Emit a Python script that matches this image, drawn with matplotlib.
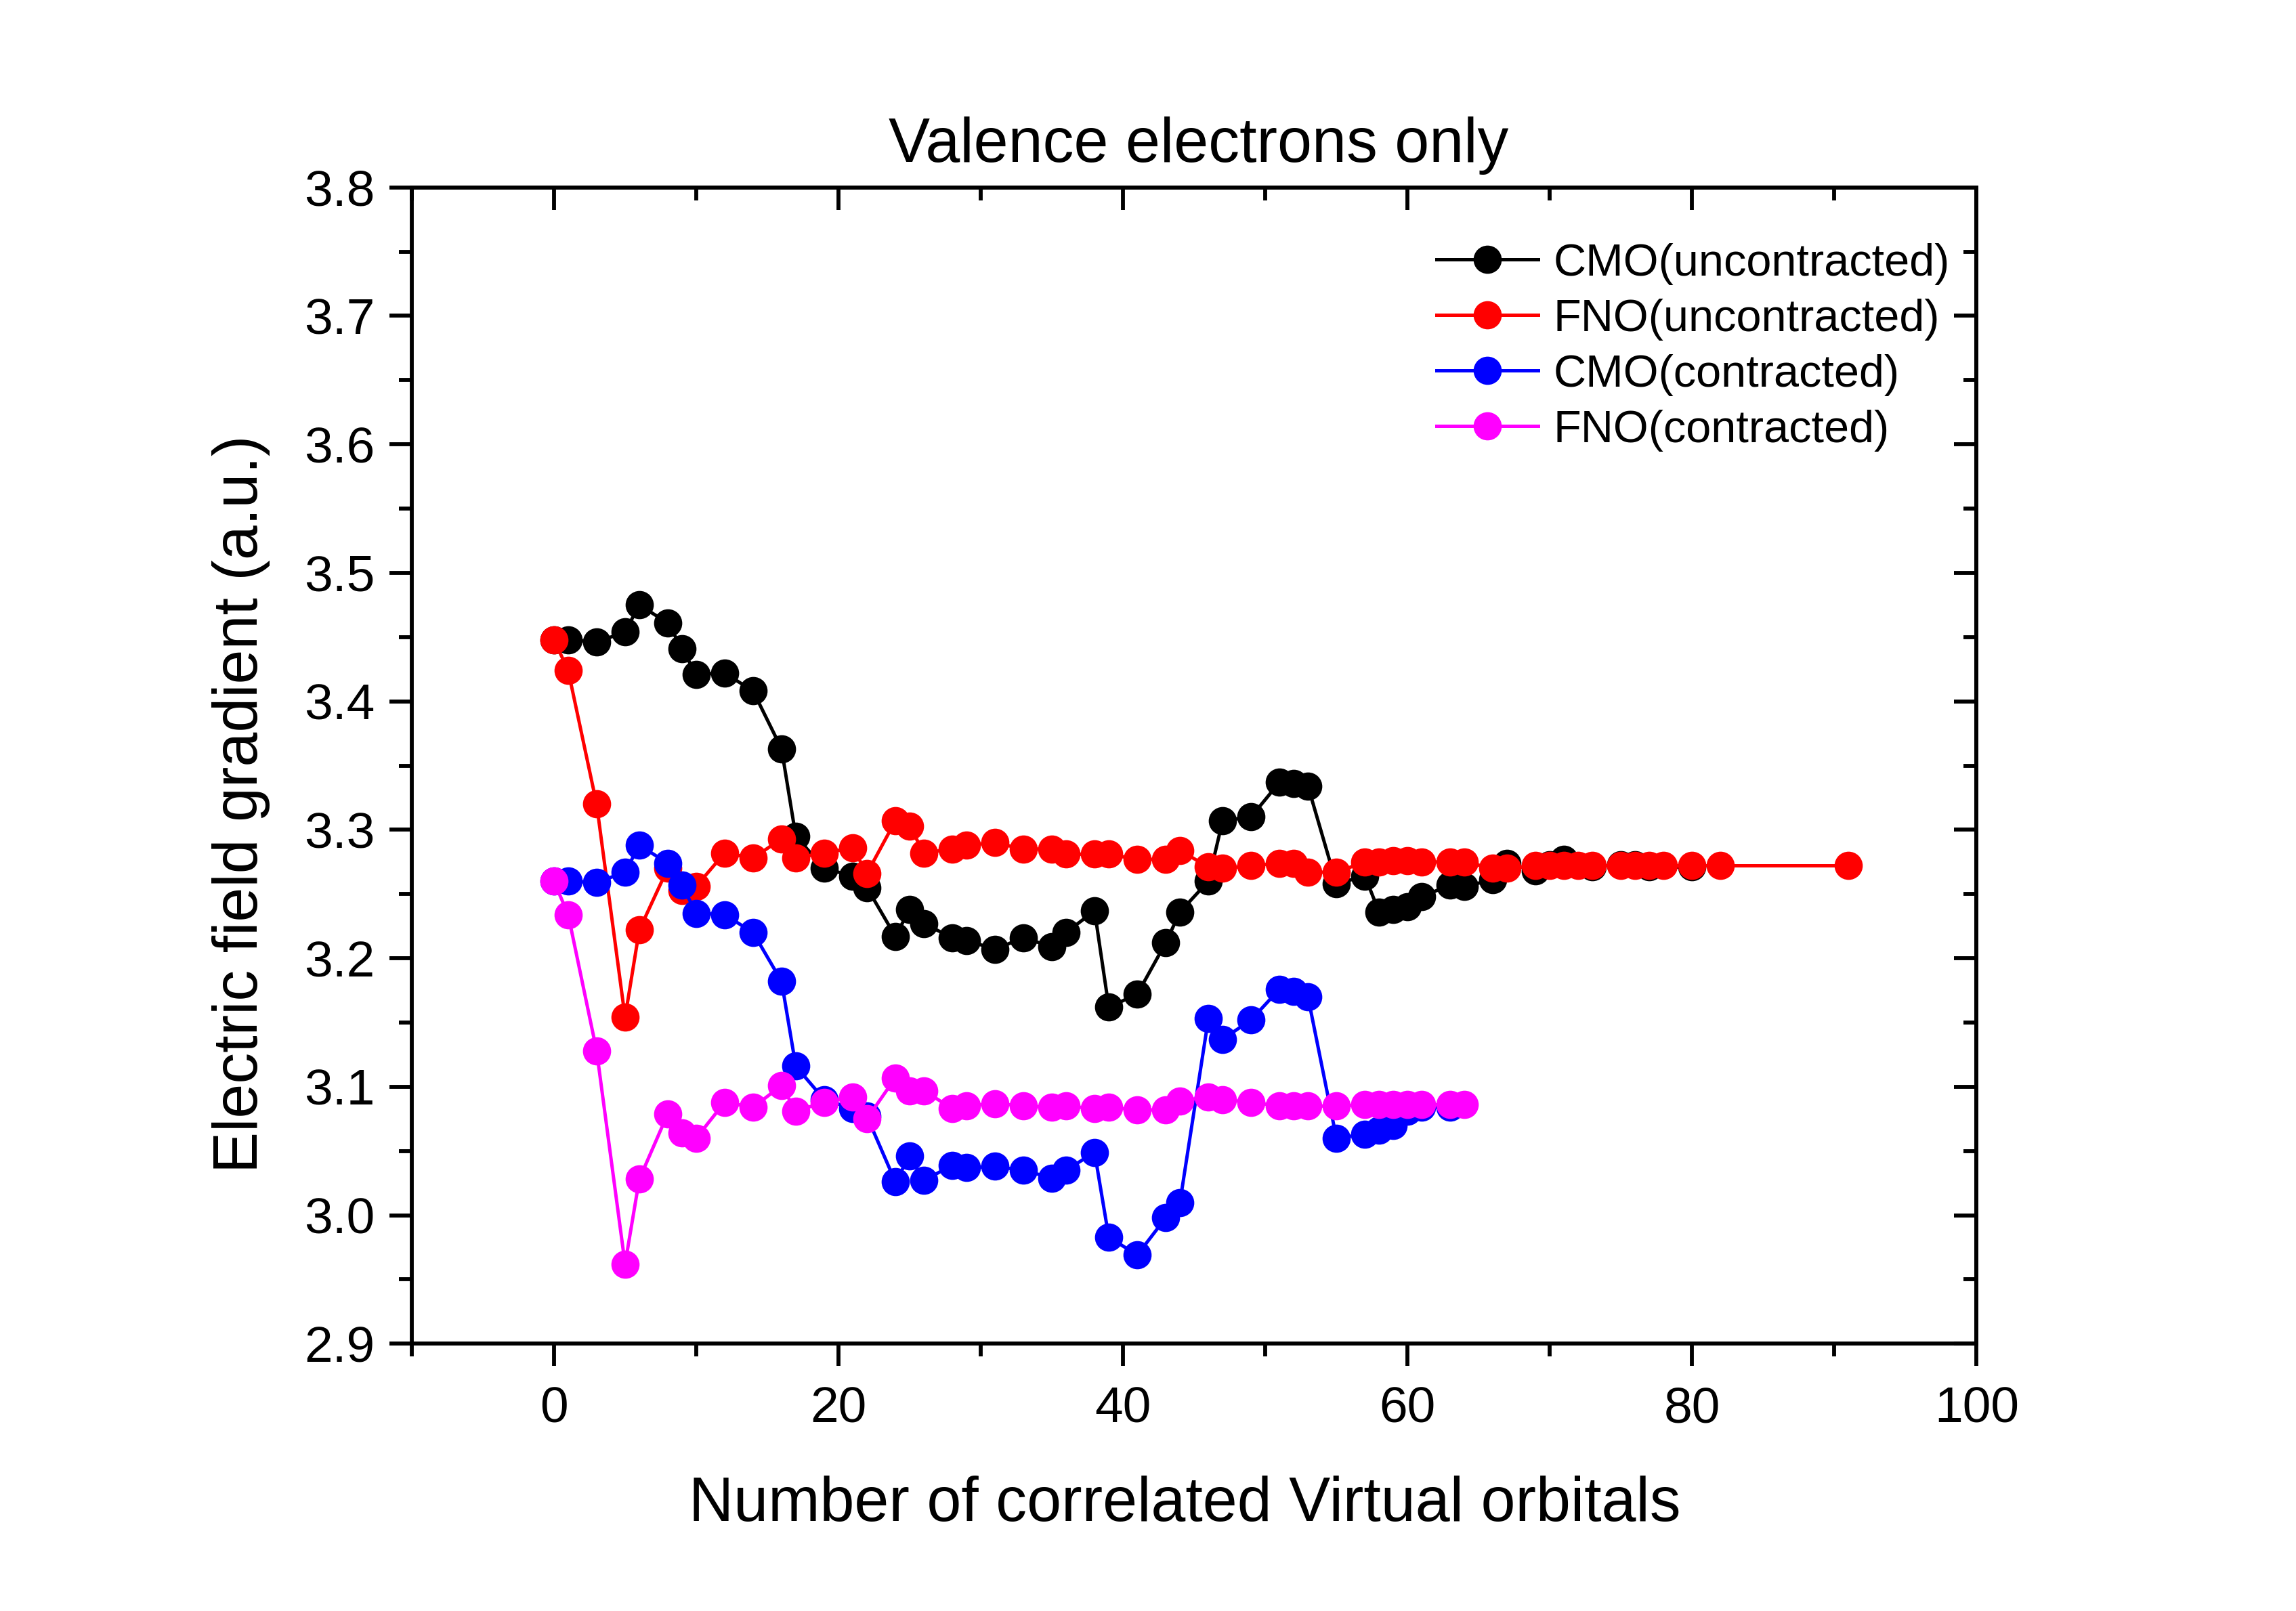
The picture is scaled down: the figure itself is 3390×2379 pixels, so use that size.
import matplotlib
matplotlib.use("Agg")
import matplotlib.pyplot as plt
from matplotlib.ticker import MultipleLocator, FormatStrFormatter

plt.rcParams['font.family'] = ['Liberation Sans', 'DejaVu Sans']

# CMO (uncontracted)
cmo_u_x = [0, 1, 3, 5, 6, 8, 9, 10, 12, 14, 16, 17, 19, 21, 22, 24, 25, 26, 28, 29,
           31, 33, 35, 36, 38, 39, 41, 43, 44, 46, 47, 49, 51, 52, 53, 55, 57, 58, 59, 60,
           61, 63, 64, 66, 67, 69, 70, 71, 73, 75, 76, 77, 80]
cmo_u_y = [3.448, 3.448, 3.446, 3.454, 3.475, 3.461, 3.441, 3.421, 3.422, 3.408, 3.363, 3.295,
           3.270, 3.264, 3.255, 3.217, 3.238, 3.227, 3.216, 3.214, 3.207, 3.216, 3.209, 3.220,
           3.237, 3.162, 3.172, 3.212, 3.236, 3.260, 3.307, 3.310, 3.337, 3.336, 3.334, 3.258,
           3.264, 3.236, 3.238, 3.240, 3.248, 3.257, 3.256, 3.261, 3.274, 3.268, 3.273, 3.277,
           3.271, 3.273, 3.273, 3.271, 3.271]

# FNO (uncontracted)
fno_u_x = [0, 1, 3, 5, 6, 8, 9, 10, 12, 14, 16, 17, 19, 21, 22, 24, 25, 26, 28, 29,
           31, 33, 35, 36, 38, 39, 41, 43, 44, 46, 47, 49, 51, 52, 53, 55, 57, 58, 59, 60,
           61, 63, 64, 66, 67, 69, 70, 71, 72, 73, 75, 76, 77, 78, 80, 82, 91]
fno_u_y = [3.448, 3.424, 3.320, 3.154, 3.222, 3.270, 3.253, 3.256, 3.282, 3.278, 3.293, 3.278,
           3.282, 3.286, 3.266, 3.307, 3.303, 3.282, 3.285, 3.288, 3.290, 3.285, 3.285, 3.281,
           3.281, 3.281, 3.277, 3.277, 3.284, 3.271, 3.270, 3.272, 3.274, 3.274, 3.267, 3.267,
           3.275, 3.275, 3.276, 3.276, 3.275, 3.275, 3.275, 3.270, 3.270, 3.272, 3.272, 3.272,
           3.272, 3.272, 3.272, 3.272, 3.272, 3.272, 3.272, 3.272, 3.272]

# CMO (contracted)
cmo_c_x = [0, 1, 3, 5, 6, 8, 9, 10, 12, 14, 16, 17, 19, 21, 22, 24, 25, 26, 28, 29,
           31, 33, 35, 36, 38, 39, 41, 43, 44, 46, 47, 49, 51, 52, 53, 55, 57, 58, 59, 60,
           61, 63]
cmo_c_y = [3.260, 3.260, 3.259, 3.267, 3.288, 3.274, 3.257, 3.235, 3.234, 3.220, 3.182, 3.116,
           3.090, 3.083, 3.077, 3.026, 3.046, 3.027, 3.039, 3.037, 3.038, 3.035, 3.029, 3.035,
           3.049, 2.983, 2.969, 2.998, 3.010, 3.153, 3.137, 3.152, 3.176, 3.174, 3.170, 3.060,
           3.063, 3.066, 3.070, 3.081, 3.084, 3.084]

# FNO (contracted)
fno_c_x = [0, 1, 3, 5, 6, 8, 9, 10, 12, 14, 16, 17, 19, 21, 22, 24, 25, 26, 28, 29,
           31, 33, 35, 36, 38, 39, 41, 43, 44, 46, 47, 49, 51, 52, 53, 55, 57, 58, 59, 60,
           61, 63, 64]
fno_c_y = [3.260, 3.234, 3.128, 2.962, 3.028, 3.079, 3.064, 3.060, 3.088, 3.084, 3.101, 3.081,
           3.088, 3.092, 3.075, 3.107, 3.097, 3.097, 3.083, 3.085, 3.087, 3.085, 3.084, 3.085,
           3.083, 3.084, 3.082, 3.082, 3.089, 3.092, 3.090, 3.088, 3.085, 3.085, 3.085, 3.085,
           3.086, 3.086, 3.086, 3.086, 3.086, 3.086, 3.086]

labels = ['CMO(uncontracted)', 'FNO(uncontracted)', 'CMO(contracted)', 'FNO(contracted)']
colors = ['#000000', '#ff0000', '#0000ff', '#ff00ff']

fig = plt.figure(figsize=(11.3, 7.93), dpi=300)
ax = fig.add_axes([0.1793, 0.1659, 0.8609 - 0.1793, 0.8837 - 0.1659])

series = [(cmo_u_x, cmo_u_y), (fno_u_x, fno_u_y), (cmo_c_x, cmo_c_y), (fno_c_x, fno_c_y)]
for (xs, ys), lab, col in zip(series, labels, colors):
    ax.plot(xs, ys, '-o', color=col, lw=1.2, markersize=10, markeredgewidth=0,
            label=lab, clip_on=False)

ax.set_xlim(-10, 100)
ax.set_ylim(2.9, 3.8)
ax.xaxis.set_major_locator(MultipleLocator(20))
ax.xaxis.set_minor_locator(MultipleLocator(10))
ax.yaxis.set_major_locator(MultipleLocator(0.1))
ax.yaxis.set_minor_locator(MultipleLocator(0.05))
ax.yaxis.set_major_formatter(FormatStrFormatter('%.1f'))

for sp in ax.spines.values():
    sp.set_linewidth(1.4)

ax.tick_params(axis='both', which='major', direction='out', length=8, width=1.4,
               labelsize=18, pad=5)
ax.tick_params(axis='x', which='major', pad=7)
ax.tick_params(axis='both', which='minor', direction='out', length=4.5, width=1.4)
ax.tick_params(axis='both', which='both', top=False, right=False)

# inward ticks on top and right (Origin style)
axt = ax.secondary_xaxis('top')
axt.xaxis.set_major_locator(MultipleLocator(20))
axt.xaxis.set_minor_locator(MultipleLocator(10))
axt.tick_params(which='major', direction='in', length=8, width=1.4, labeltop=False)
axt.tick_params(which='minor', direction='in', length=4.5, width=1.4)
axt.spines['top'].set_linewidth(1.4)
axr = ax.secondary_yaxis('right')
axr.yaxis.set_major_locator(MultipleLocator(0.1))
axr.yaxis.set_minor_locator(MultipleLocator(0.05))
axr.tick_params(which='major', direction='in', length=8, width=1.4, labelright=False)
axr.tick_params(which='minor', direction='in', length=4.5, width=1.4)
axr.spines['right'].set_linewidth(1.4)

ax.set_title('Valence electrons only', fontsize=22, pad=9, x=0.503)
ax.set_xlabel('Number of correlated Virtual orbitals', fontsize=22, labelpad=16)
ax.xaxis.set_label_coords(0.494, -0.114)
ax.set_ylabel('Electric field gradient (a.u.)', fontsize=22, labelpad=12)
ax.yaxis.label.set_y(0.467)

ax.legend(loc='upper left', bbox_to_anchor=(0.655, 0.952), frameon=False, fontsize=16,
          handlelength=2.25, handletextpad=0.33, labelspacing=0.3, borderpad=0,
          borderaxespad=0)

fig.savefig('out.png', dpi=300)
